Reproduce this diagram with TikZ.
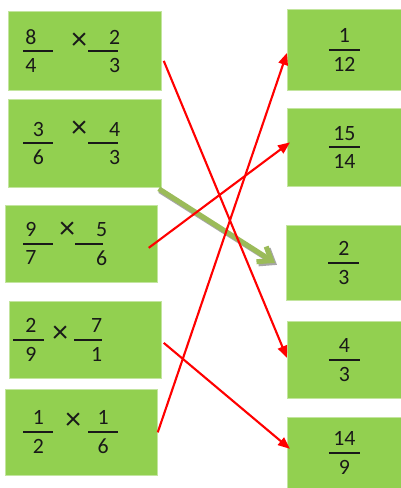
\documentclass[tikz,border=0pt]{standalone}
\usepackage{amsmath}
\usepackage{fontspec}
\setmainfont{Carlito}
\usepackage{tikz}
\usetikzlibrary{arrows.meta,calc}
\definecolor{boxgreen}{HTML}{92D050}
\definecolor{olivegreen}{HTML}{9BBB59}
\definecolor{matchred}{HTML}{FF0000}
\newlength\pxu
\setlength\pxu{0.025cm}
\nulldelimiterspace=0pt
\newcommand\fr[4]{$\genfrac{}{}{1.4pt}{0}{\raisebox{-1.1pt}{\makebox[#2\pxu][#1]{#3}}}{\raisebox{-1.7pt}{\makebox[#2\pxu][#1]{#4}}}$}
\newcommand\tms[1]{\smash{\raisebox{#1\pxu}{\scalebox{1.45}{×}}}}
\newcommand\gap[1]{\hspace{#1\pxu}}
\tikzset{
  cardbox/.style={
    anchor=north west,
    fill=boxgreen,
    draw=boxgreen!55!white,
    line width=0.5pt,
    inner sep=0pt,
    text=black!90,
    font=\fontsize{15.5}{18}\selectfont
  },
  leftcard/.style={cardbox, align=left},
  rightcard/.style={cardbox, align=center},
  redarrow/.style={draw=matchred, line width=1.5pt, -{Triangle[length=0.3cm,width=0.24cm]}},
  greenarrow/.style={draw=olivegreen, line width=3.6pt, -{Straight Barb[length=0.3cm,width=0.45cm]}},
  shadowarrow/.style={draw=black!35, line width=3.6pt, -{Straight Barb[length=0.3cm,width=0.45cm]}}
}
\begin{document}
\begin{tikzpicture}[x=0.025cm,y=-0.025cm]
  \path[use as bounding box, fill=white] (0,0) rectangle (401,488);

  % products
  \node[leftcard, text width=3.825cm, minimum height=1.975cm] (l1) at (8,11)
    {\hspace*{15\pxu}\fr{l}{30}{\gap{2}8}{\gap{2}4}\gap{18}\tms{7}\gap{1}\fr{r}{30}{2\gap{-2}}{3\gap{-2}}};
  \node[leftcard, text width=3.825cm, minimum height=2.2cm] (l2) at (8,99)
    {\hspace*{15\pxu}\fr{c}{30}{3}{6}\gap{18}\tms{11}\gap{1}\fr{r}{30}{4\gap{-2}}{3\gap{-2}}};
  \node[leftcard, text width=3.8cm, minimum height=1.925cm] (l3) at (5,205)
    {\hspace*{18\pxu}\fr{l}{30}{\gap{2}9}{\gap{2}7}\gap{6}\tms{10}\gap{0}\fr{r}{28}{5\gap{-4}}{6\gap{-4}}};
  \node[leftcard, text width=3.8cm, minimum height=1.925cm] (l4) at (9,301)
    {\hspace*{4\pxu}\fr{r}{31}{2\gap{8}}{9\gap{8}}\gap{8}\tms{2}\gap{6}\fr{r}{28}{7}{1}};
  \node[leftcard, text width=3.8cm, minimum height=2.15cm] (l5) at (5,389)
    {\hspace*{18\pxu}\fr{c}{30}{1}{2}\gap{12}\tms{8}\gap{7}\fr{c}{30}{1}{6}};

  % results
  \node[rightcard, text width=2.85cm, minimum height=2.025cm] (r1) at (287,9) {\fr{c}{31}{1}{12}};
  \node[rightcard, text width=2.85cm, minimum height=1.95cm] (r2) at (287,108) {\fr{c}{31}{15}{14}};
  \node[rightcard, text width=2.875cm, minimum height=1.875cm] (r3) at (286,225) {\fr{c}{31}{2}{3}};
  \node[rightcard, text width=2.85cm, minimum height=1.925cm] (r4) at (287,321) {\fr{c}{31}{4}{3}};
  \node[rightcard, text width=2.85cm, minimum height=1.775cm] (r5) at (287,417) {\fr{c}{31}{14}{9}};

  % matches
  \draw[shadowarrow] ($(l2.south east)+(-2,3)$) -- ($(r3.west)+(-9,2)$);
  \draw[greenarrow] ($(l2.south east)+(-3,1)$) -- ($(r3.west)+(-11,0)$);

  \draw[redarrow] ($(l1.east)+(2,10)$) -- ($(r4.west)+(0,-2)$);
  \draw[redarrow] ($(l3.east)+(-9,4)$) -- ($(r2.west)+(3,-5)$);
  \draw[redarrow] ($(l4.east)+(2,3)$) -- ($(r5.west)+(3,-4)$);
  \draw[redarrow] (l5.east) -- ($(r1.west)+(0,3)$);
\end{tikzpicture}
\end{document}
